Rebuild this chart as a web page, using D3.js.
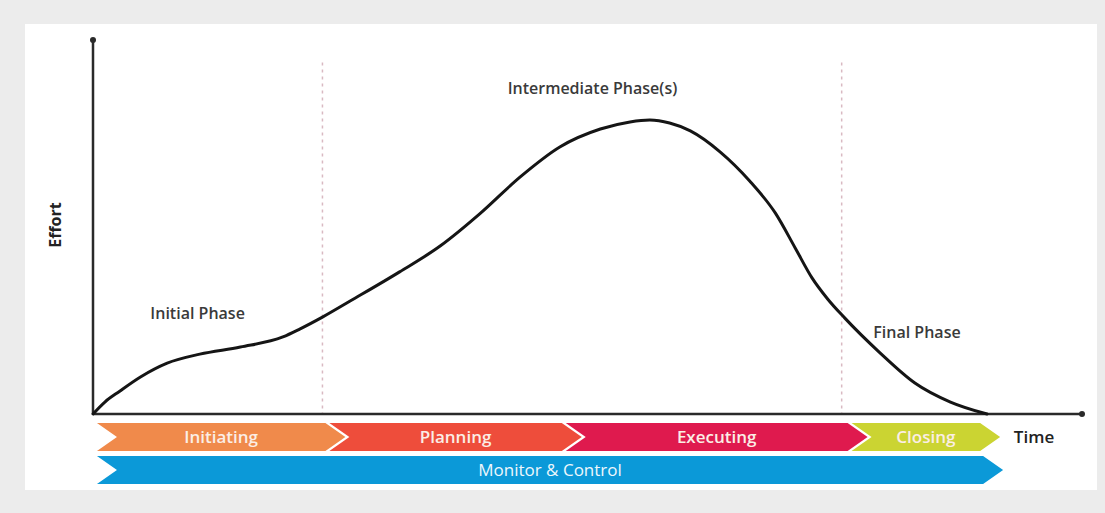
<!DOCTYPE html>
<html>
<head>
<meta charset="utf-8">
<script src="https://cdn.jsdelivr.net/npm/d3@7/dist/d3.min.js"></script>
<style>
  html, body { margin: 0; padding: 0; background: #ececec; }
  svg { display: block; }
</style>
</head>
<body>
<svg id="chart" width="1105" height="513"></svg>
<script>
// ---- data (time 0..100, effort 0..100) ----
const curveTime   = [0, 1.2, 2.7, 4.8, 7.5, 10.8, 14.9, 19.2, 20.9, 23.2, 26.0, 31.0, 35.1, 39.1, 43.2, 47.2, 51.3, 54.3, 56.3, 58.3, 60.4, 63.4, 66.4, 69.0, 71.0, 72.7, 74.3, 76.0, 79.6, 83.1, 86.7, 90.4];
const curveEffort = [0, 3.2, 6.1, 9.9, 13.6, 16.0, 17.9, 20.6, 22.7, 25.9, 30.2, 38.0, 44.9, 53.5, 63.4, 71.4, 76.2, 78.1, 78.6, 77.8, 75.7, 70.1, 62.3, 53.7, 44.4, 36.4, 30.7, 25.7, 16.3, 8.3, 3.2, 0];

const dividers = [23.2, 75.7];

const phaseNames  = ["Initiating", "Planning", "Executing", "Closing"];
const phaseStart  = [0.4, 23.9, 47.8, 76.7];
const phaseEnd    = [23.5, 47.4, 76.3, 89.7];
const phaseColors = ["#f08a4b", "#ee4d3b", "#df1a4e", "#cbd432"];

const monitorName  = "Monitor & Control";
const monitorStart = 0.4;
const monitorEnd   = 90.0;
const monitorColor = "#0b99d8";

const phaseLabels = [
  { text: "Initial Phase", t: 5.8, e: 25.5, anchor: "start" },
  { text: "Intermediate Phase(s)", t: 50.5, e: 85.5, anchor: "middle" },
  { text: "Final Phase", t: 78.9, e: 20.3, anchor: "start" }
];

// ---- layout ----
const svg = d3.select("#chart");
const W = 1105, H = 513;

svg.append("rect").attr("x", 0).attr("y", 0).attr("width", W).attr("height", H).attr("fill", "#ececec");
svg.append("rect").attr("x", 25).attr("y", 24).attr("width", 1072).attr("height", 466).attr("fill", "#ffffff");

const x = d3.scaleLinear().domain([0, 100]).range([93, 1082]);
const y = d3.scaleLinear().domain([0, 100]).range([414, 40]);

// dividers
svg.selectAll("line.div").data(dividers).join("line")
  .attr("class", "div")
  .attr("x1", d => x(d)).attr("x2", d => x(d))
  .attr("y1", y(94)).attr("y2", y(0))
  .attr("stroke", "#d9b9c2").attr("stroke-width", 1.5)
  .attr("stroke-dasharray", "3,4");

// axes
const axisColor = "#2a2a2a";
svg.append("line").attr("x1", x(0)).attr("x2", x(0)).attr("y1", y(0)).attr("y2", y(100))
  .attr("stroke", axisColor).attr("stroke-width", 2.5);
svg.append("line").attr("x1", x(0)).attr("x2", x(100)).attr("y1", y(0)).attr("y2", y(0))
  .attr("stroke", axisColor).attr("stroke-width", 2.5);
svg.append("circle").attr("cx", x(0)).attr("cy", y(100)).attr("r", 3).attr("fill", axisColor);
svg.append("circle").attr("cx", x(100)).attr("cy", y(0)).attr("r", 3).attr("fill", axisColor);

// curve
const pts = curveTime.map((t, i) => [t, curveEffort[i]]);
const line = d3.line().x(d => x(d[0])).y(d => y(d[1])).curve(d3.curveMonotoneX);
svg.append("path").attr("d", line(pts))
  .attr("fill", "none").attr("stroke", "#151515").attr("stroke-width", 3)
  .attr("stroke-linecap", "round").attr("stroke-linejoin", "round");

// chevrons
const depth = 20;
function chevron(x0, x1, yTop, h) {
  const ym = yTop + h / 2, yb = yTop + h;
  return `M${x0},${yTop} L${x1},${yTop} L${x1 + depth},${ym} L${x1},${yb} L${x0},${yb} L${x0 + depth},${ym} Z`;
}
const row1Top = 423, rowH = 28, row2Top = 456;
const fontFam = "'Open Sans', 'Noto Sans', sans-serif";

phaseNames.forEach((name, i) => {
  const x0 = x(phaseStart[i]), x1 = x(phaseEnd[i]);
  svg.append("path").attr("d", chevron(x0, x1, row1Top, rowH)).attr("fill", phaseColors[i]);
  svg.append("text").attr("x", (x0 + x1 + depth) / 2).attr("y", row1Top + rowH / 2 + 6)
    .attr("text-anchor", "middle").attr("fill", "#fbeee6")
    .style("font-family", fontFam).style("font-size", "17px").style("font-weight", "600")
    .text(name);
});

{
  const x0 = x(monitorStart), x1 = x(monitorEnd);
  svg.append("path").attr("d", chevron(x0, x1, row2Top, rowH)).attr("fill", monitorColor);
  svg.append("text").attr("x", (x0 + x1 + depth) / 2).attr("y", row2Top + rowH / 2 + 6)
    .attr("text-anchor", "middle").attr("fill", "#eef7fc")
    .style("font-family", fontFam).style("font-size", "17px")
    .text(monitorName);
}

// phase labels
svg.selectAll("text.pl").data(phaseLabels).join("text")
  .attr("class", "pl")
  .attr("x", d => x(d.t)).attr("y", d => y(d.e))
  .attr("text-anchor", d => d.anchor)
  .attr("fill", "#3a3a3a")
  .style("font-family", fontFam).style("font-size", "16px").style("font-weight", "600")
  .text(d => d.text);

// axis titles
svg.append("text").attr("transform", `translate(61,225) rotate(-90)`)
  .attr("text-anchor", "middle").attr("fill", "#222")
  .style("font-family", fontFam).style("font-size", "16px").style("font-weight", "700")
  .text("Effort");
svg.append("text").attr("x", 1034).attr("y", 443)
  .attr("text-anchor", "middle").attr("fill", "#222")
  .style("font-family", fontFam).style("font-size", "17px").style("font-weight", "600")
  .text("Time");
</script>
</body>
</html>
